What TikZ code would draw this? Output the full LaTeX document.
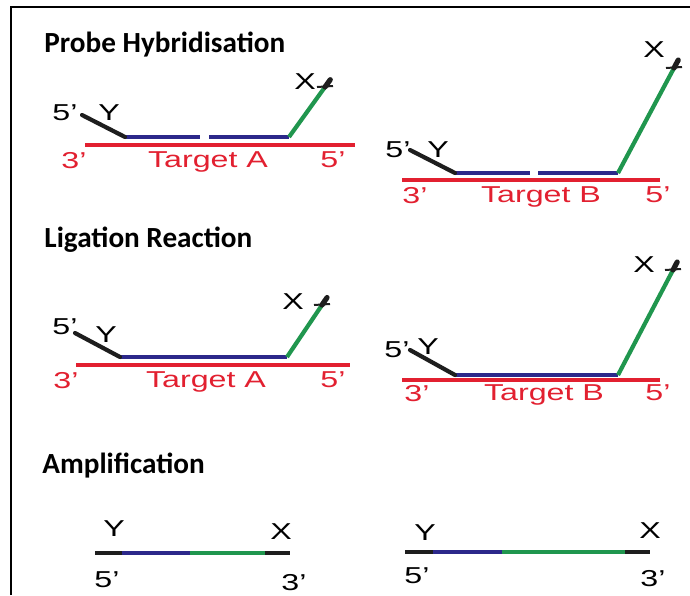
\documentclass[tikz,border=0pt]{standalone}
\usepackage{fontspec}
\usepackage{graphicx}
\setmainfont{Liberation Sans}
\newfontfamily\titlefont{Carlito}
\usetikzlibrary{calc}
\definecolor{targetred}{RGB}{226,32,48}
\definecolor{probeblue}{RGB}{44,40,138}
\definecolor{probegreen}{RGB}{32,150,78}
\definecolor{armblack}{RGB}{30,30,30}
\newcommand{\wide}[1]{\scalebox{1.4}[1]{#1}}
\tikzset{
  target/.style={targetred, line width=1.7pt},
  probe/.style={probeblue, line width=1.6pt},
  linker/.style={probegreen, line width=2.1pt},
  arm/.style={armblack, line width=2.1pt, line cap=round},
  tick/.style={armblack, line width=1pt},
  strand/.style={line width=1.7pt},
  lbl/.style={inner sep=0pt, text depth=0pt, font=\fontsize{11.5}{13}\selectfont},
  redlbl/.style={lbl, text=targetred},
  title/.style={anchor=base west, inner sep=0pt, font=\titlefont\bfseries\fontsize{14.6}{17}\selectfont}
}

\begin{document}
\begin{tikzpicture}[x=0.5pt, y=-0.5pt]
    \useasboundingbox (0,0) rectangle (690,595);
    \draw[line width=1.1pt] (11,595) -- (11,7) -- (690,7);

    \node[title] (ttl-hyb) at (44,52) {Probe Hybridisation};
    \node[title] (ttl-lig) at (44,247) {Ligation Reaction};
    \node[title] (ttl-amp) at (42,473) {Amplification};

    % probe hybridisation, target A
    \coordinate (hA-t0) at (85,145);  \coordinate (hA-t1) at (355,145);
    \coordinate (hA-y) at (82,115);   \coordinate (hA-l) at (125,137);
    \coordinate (hA-g0) at (200,137); \coordinate (hA-g1) at (209,137);
    \coordinate (hA-r) at (289,137);  \coordinate (hA-x) at (325,87);
    \draw[target] (hA-t0) -- (hA-t1);
    \draw[probe] (hA-l) -- (hA-g0) (hA-g1) -- (hA-r);
    \draw[linker] (hA-r) -- (hA-x);
    \draw[arm] (hA-y) -- (hA-l);
    \node[redlbl] (hA-3p) at (74,160) {\wide{3'}};
    \node[redlbl] (hA-tgt) at (208,160) {\wide{Target A}};
    \node[redlbl] (hA-5p) at (333,160) {\wide{5'}};
    \node[lbl] (hA-5y) at (65,113) {\wide{5'}};
    \node[lbl] (hA-Y) at (109,113) {\wide{Y}};
    \node[lbl] (hA-X) at (305,82) {\wide{X}};

    % probe hybridisation, target B
    \coordinate (hB-t0) at (402,180); \coordinate (hB-t1) at (660,180);
    \coordinate (hB-y) at (410,150);  \coordinate (hB-l) at (455,173);
    \coordinate (hB-g0) at (530,173); \coordinate (hB-g1) at (538,173);
    \coordinate (hB-r) at (618,173);  \coordinate (hB-x) at (674,68);
    \draw[target] (hB-t0) -- (hB-t1);
    \draw[probe] (hB-l) -- (hB-g0) (hB-g1) -- (hB-r);
    \draw[linker] (hB-r) -- (hB-x);
    \draw[arm] (hB-y) -- (hB-l);
    \node[redlbl] (hB-3p) at (415,195) {\wide{3'}};
    \node[redlbl] (hB-tgt) at (541,195) {\wide{Target B}};
    \node[redlbl] (hB-5p) at (658,195) {\wide{5'}};
    \node[lbl] (hB-5y) at (398,150) {\wide{5'}};
    \node[lbl] (hB-Y) at (438,150) {\wide{Y}};
    \node[lbl] (hB-X) at (654,50) {\wide{X}};

    % ligation, target A
    \coordinate (lA-t0) at (76,365);  \coordinate (lA-t1) at (350,365);
    \coordinate (lA-y) at (75,333);   \coordinate (lA-l) at (120,357);
    \coordinate (lA-r) at (287,357);  \coordinate (lA-x) at (322,305);
    \draw[target] (lA-t0) -- (lA-t1);
    \draw[probe] (lA-l) -- (lA-r);
    \draw[linker] (lA-r) -- (lA-x);
    \draw[arm] (lA-y) -- (lA-l);
    \node[redlbl] (lA-3p) at (66,380) {\wide{3'}};
    \node[redlbl] (lA-tgt) at (206,380) {\wide{Target A}};
    \node[redlbl] (lA-5p) at (333,380) {\wide{5'}};
    \node[lbl] (lA-5y) at (65,327) {\wide{5'}};
    \node[lbl] (lA-Y) at (106,335) {\wide{Y}};
    \node[lbl] (lA-X) at (293,302) {\wide{X}};

    % ligation, target B
    \coordinate (lB-t0) at (402,380); \coordinate (lB-t1) at (660,380);
    \coordinate (lB-y) at (410,350);  \coordinate (lB-l) at (455,375);
    \coordinate (lB-r) at (618,375);  \coordinate (lB-x) at (673,270);
    \draw[target] (lB-t0) -- (lB-t1);
    \draw[probe] (lB-l) -- (lB-r);
    \draw[linker] (lB-r) -- (lB-x);
    \draw[arm] (lB-y) -- (lB-l);
    \node[redlbl] (lB-3p) at (417,393) {\wide{3'}};
    \node[redlbl] (lB-tgt) at (544,393) {\wide{Target B}};
    \node[redlbl] (lB-5p) at (658,393) {\wide{5'}};
    \node[lbl] (lB-5y) at (397,350) {\wide{5'}};
    \node[lbl] (lB-Y) at (428,347) {\wide{Y}};
    \node[lbl] (lB-X) at (644,265) {\wide{X}};

    % black caps at the X ends
    \foreach \a/\b in {hA-r/hA-x, hB-r/hB-x, lA-r/lA-x, lB-r/lB-x} {
      \draw[arm, line width=2.6pt] (\b) -- ($(\b)!-4.5pt!(\a)$);
      \draw[tick] ($(\b)+(-8,0)$) -- ($(\b)+(8,-1)$);
    }

    % amplified products
    \coordinate (aA-0) at (95,553);  \coordinate (aA-1) at (122,553);
    \coordinate (aA-2) at (190,553); \coordinate (aA-3) at (265,553);
    \coordinate (aA-4) at (290,553);
    \draw[strand, armblack] (aA-0) -- (aA-1) (aA-3) -- (aA-4);
    \draw[strand, probeblue] (aA-1) -- (aA-2);
    \draw[strand, probegreen] (aA-2) -- (aA-3);
    \node[lbl] (aA-Y) at (114,529) {\wide{Y}};
    \node[lbl] (aA-X) at (281,532) {\wide{X}};
    \node[lbl] (aA-5p) at (107,580) {\wide{5'}};
    \node[lbl] (aA-3p) at (294,582) {\wide{3'}};

    \coordinate (aB-0) at (405,552); \coordinate (aB-1) at (433,552);
    \coordinate (aB-2) at (502,552); \coordinate (aB-3) at (625,552);
    \coordinate (aB-4) at (650,552);
    \draw[strand, armblack] (aB-0) -- (aB-1) (aB-3) -- (aB-4);
    \draw[strand, probeblue] (aB-1) -- (aB-2);
    \draw[strand, probegreen] (aB-2) -- (aB-3);
    \node[lbl] (aB-Y) at (425,533) {\wide{Y}};
    \node[lbl] (aB-X) at (650,531) {\wide{X}};
    \node[lbl] (aB-5p) at (417,576) {\wide{5'}};
    \node[lbl] (aB-3p) at (653,578) {\wide{3'}};
\end{tikzpicture}
\end{document}
